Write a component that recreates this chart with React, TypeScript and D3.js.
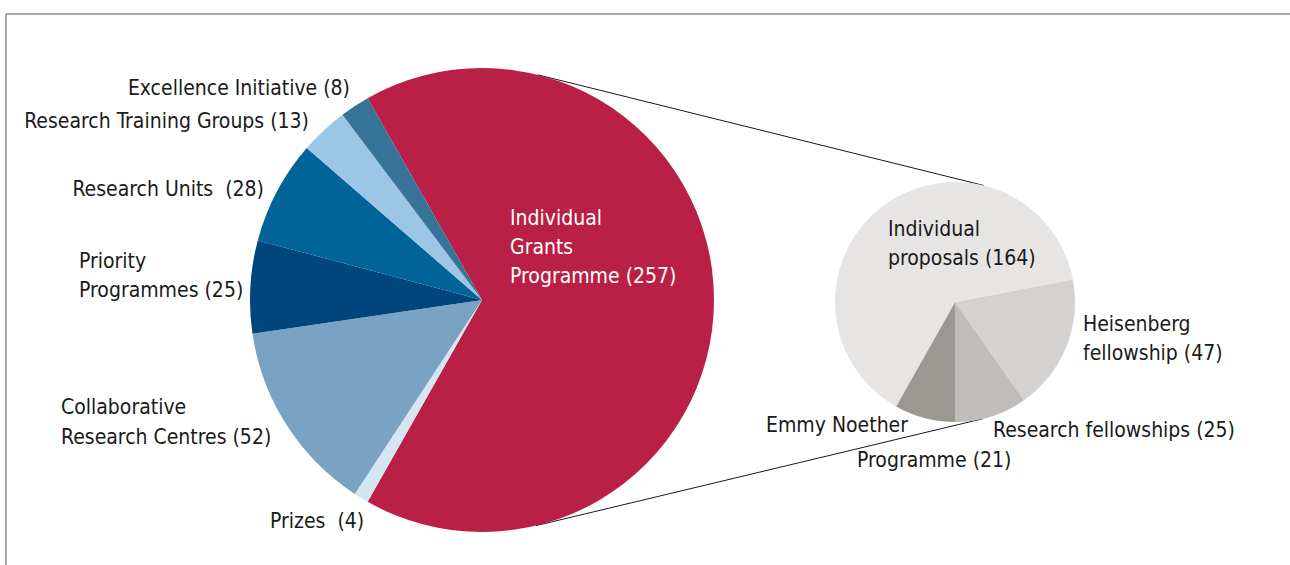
import React from "react";
import * as d3 from "d3";

const mainCategories = [
  "Individual Grants Programme",
  "Prizes",
  "Collaborative Research Centres",
  "Priority Programmes",
  "Research Units",
  "Research Training Groups",
  "Excellence Initiative",
];
const mainValues = [257, 4, 52, 25, 28, 13, 8];
const mainColors = ["#BA1F45", "#D5E6F3", "#7AA3C3", "#00457B", "#00649A", "#9CC6E6", "#377298"];

const subCategories = ["Heisenberg fellowship", "Research fellowships", "Emmy Noether Programme", "Individual proposals"];
const subValues = [47, 25, 21, 164];
const subColors = ["#D3D2D1", "#BFBCB9", "#9B9894", "#E6E5E4"];

// label texts (lines) per category
const mainLabelLines = [
  ["Individual", "Grants", "Programme (257)"],
  ["Prizes  (4)"],
  ["Collaborative", "Research Centres (52)"],
  ["Priority", "Programmes (25)"],
  ["Research Units  (28)"],
  ["Research Training Groups (13)"],
  ["Excellence Initiative (8)"],
];
const subLabelLines = [
  ["Heisenberg", "fellowship (47)"],
  ["Research fellowships (25)"],
  ["Emmy Noether", "Programme (21)"],
  ["Individual", "proposals (164)"],
];

// layout (positions of label blocks)
const mainLabelLayout = [
  { x: 510, y: 225, anchor: "start", fill: "#ffffff", dx: [0, 0, 0], dy: 29 },
  { x: 270, y: 528, anchor: "start", fill: "#1a1a1a", dx: [0], dy: 29 },
  { x: 61, y: 414, anchor: "start", fill: "#1a1a1a", dx: [0, 0], dy: 30 },
  { x: 79, y: 268, anchor: "start", fill: "#1a1a1a", dx: [0, 0], dy: 29 },
  { x: 264, y: 196, anchor: "end", fill: "#1a1a1a", dx: [0], dy: 29 },
  { x: 309, y: 128, anchor: "end", fill: "#1a1a1a", dx: [0], dy: 29 },
  { x: 350, y: 95, anchor: "end", fill: "#1a1a1a", dx: [0], dy: 29 },
];
const subLabelLayout = [
  { x: 1083, y: 331, anchor: "start", dx: [0, 0], dy: 29 },
  { x: 993, y: 437, anchor: "start", dx: [0], dy: 29 },
  { x: 766, y: 432, anchor: "start", dx: [0, 91], dy: 35 },
  { x: 888, y: 236, anchor: "start", dx: [0, 0], dy: 29 },
];

const W = 1290;
const H = 565;
const mainC = { x: 482, y: 300, r: 232 };
const subC = { x: 955, y: 302, r: 120 };
const FONT = "'Liberation Sans Narrow', 'DejaVu Sans Condensed', 'Open Sans', sans-serif";
const FS = 21;

export default function App() {
  const mainTotal = d3.sum(mainValues);
  const mainSpan = (mainValues[0] / mainTotal) * 2 * Math.PI;
  const mainStart = Math.PI / 2 - mainSpan / 2;
  const mainPie = d3
    .pie<number>()
    .sort(null)
    .value((d) => d)
    .startAngle(mainStart)
    .endAngle(mainStart + 2 * Math.PI);
  const mainArcs = mainPie(mainValues);
  const mainArc = d3.arc<d3.PieArcDatum<number>>().innerRadius(0).outerRadius(mainC.r);

  const subTotal = d3.sum(subValues);
  const subStart = Math.PI - ((subValues[0] + subValues[1]) / subTotal) * 2 * Math.PI;
  const subPie = d3
    .pie<number>()
    .sort(null)
    .value((d) => d)
    .startAngle(subStart)
    .endAngle(subStart + 2 * Math.PI);
  const subArcs = subPie(subValues);
  const subArc = d3.arc<d3.PieArcDatum<number>>().innerRadius(0).outerRadius(subC.r);

  // external tangent lines between the two circles
  const dxC = subC.x - mainC.x;
  const dyC = subC.y - mainC.y;
  const d = Math.hypot(dxC, dyC);
  const base = Math.atan2(dyC, dxC);
  const alpha = Math.acos((mainC.r - subC.r) / d);
  const tangents = [base - alpha, base + alpha].map((a) => ({
    x1: mainC.x + mainC.r * Math.cos(a),
    y1: mainC.y + mainC.r * Math.sin(a),
    x2: subC.x + subC.r * Math.cos(a),
    y2: subC.y + subC.r * Math.sin(a),
  }));

  return (
    <svg
      width={W}
      height={H}
      style={{ position: "absolute", left: 0, top: 0, background: "#fff" }}
      fontFamily={FONT}
      fontSize={FS}
    >
      <line x1={6} y1={14} x2={W} y2={14} stroke="#8a8a8a" strokeWidth={1.5} />
      <line x1={6} y1={14} x2={6} y2={H} stroke="#8a8a8a" strokeWidth={1.5} />

      {tangents.map((t, i) => (
        <line key={i} x1={t.x1} y1={t.y1} x2={t.x2} y2={t.y2} stroke="#1a1a1a" strokeWidth={1} />
      ))}

      <g transform={`translate(${mainC.x},${mainC.y})`}>
        {mainArcs.map((a, i) => (
          <path key={i} d={mainArc(a) || ""} fill={mainColors[i]} />
        ))}
      </g>
      <g transform={`translate(${subC.x},${subC.y})`}>
        {subArcs.map((a, i) => (
          <path key={i} d={subArc(a) || ""} fill={subColors[i]} />
        ))}
      </g>

      {mainLabelLines.map((lines, i) => {
        const L = mainLabelLayout[i];
        return (
          <text key={i} textAnchor={L.anchor} fill={L.fill}>
            {lines.map((ln, j) => (
              <tspan key={j} x={L.x + L.dx[j]} y={L.y + j * L.dy} xmlSpace="preserve" style={{ whiteSpace: "pre" }}>
                {ln}
              </tspan>
            ))}
          </text>
        );
      })}
      {subLabelLines.map((lines, i) => {
        const L = subLabelLayout[i];
        return (
          <text key={i} textAnchor={L.anchor} fill="#1a1a1a">
            {lines.map((ln, j) => (
              <tspan key={j} x={L.x + L.dx[j]} y={L.y + j * L.dy} style={{ whiteSpace: "pre" }}>
                {ln}
              </tspan>
            ))}
          </text>
        );
      })}
    </svg>
  );
}
